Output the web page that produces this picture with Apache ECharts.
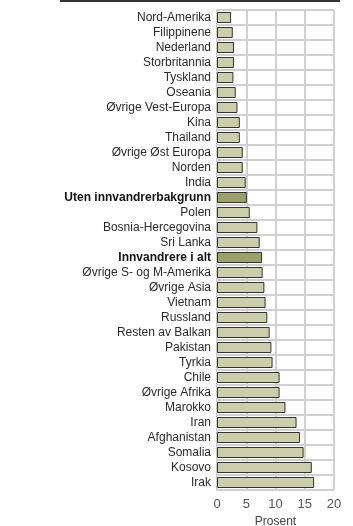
<!DOCTYPE html>
<html>
<head>
<meta charset="utf-8">
<script src="https://cdn.jsdelivr.net/npm/echarts@6/dist/echarts.min.js"></script>
<style>
  html, body { margin: 0; padding: 0; background: #fff; }
  #chart { width: 353px; height: 526px; }
</style>
</head>
<body>
<div id="chart"></div>
<script>
// categories, top to bottom
const categories = [
  "Nord-Amerika", "Filippinene", "Nederland", "Storbritannia", "Tyskland",
  "Oseania", "Øvrige Vest-Europa", "Kina", "Thailand", "Øvrige Øst Europa",
  "Norden", "India", "Uten innvandrerbakgrunn", "Polen", "Bosnia-Hercegovina",
  "Sri Lanka", "Innvandrere i alt", "Øvrige S- og M-Amerika", "Øvrige Asia",
  "Vietnam", "Russland", "Resten av Balkan", "Pakistan", "Tyrkia", "Chile",
  "Øvrige Afrika", "Marokko", "Iran", "Afghanistan", "Somalia", "Kosovo", "Irak"
];
const values = [
  2.4, 2.7, 2.9, 2.9, 2.8,
  3.2, 3.5, 3.9, 3.9, 4.4,
  4.4, 4.9, 5.1, 5.6, 6.9,
  7.3, 7.7, 7.8, 8.1,
  8.3, 8.6, 9.0, 9.3, 9.5, 10.7,
  10.7, 11.7, 13.6, 14.2, 14.8, 16.2, 16.6
];
const highlighted = ["Uten innvandrerbakgrunn", "Innvandrere i alt"];
const xTicks = [0, 5, 10, 15, 20];

const chart = echarts.init(document.getElementById("chart"));
const option = {
  animation: false,
  graphic: [
    {
      type: "line",
      shape: { x1: 60, y1: 1, x2: 340, y2: 1 },
      style: { stroke: "#333", lineWidth: 2 },
    },
  ],
  grid: { left: 217, right: 19, top: 10, bottom: 36, outerBoundsMode: "none" },
  xAxis: {
    type: "value",
    min: xTicks[0],
    max: xTicks[xTicks.length - 1],
    interval: 5,
    name: "Prosent",
    nameLocation: "middle",
    nameGap: 22,
    nameTextStyle: { fontFamily: "Liberation Sans", fontSize: 12, color: "#444" },
    axisLine: { show: false },
    axisTick: { show: false },
    axisLabel: { fontFamily: "Liberation Sans", fontSize: 13, color: "#555", margin: 8 },
    splitLine: { show: true, lineStyle: { color: "#d0d0d0", width: 2 } },
  },
  yAxis: {
    type: "category",
    data: categories,
    inverse: true,
    axisLine: { show: true, lineStyle: { color: "#d0d0d0", width: 2 } },
    axisTick: { show: false },
    axisLabel: {
      interval: 0,
      margin: 6,
      fontFamily: "Liberation Sans",
      fontSize: 12,
      color: "#2a2a2a",
      formatter: function (v) {
        return highlighted.indexOf(v) >= 0 ? "{b|" + v + "}" : v;
      },
      rich: { b: { fontWeight: "bold", fontFamily: "Liberation Sans", fontSize: 12, color: "#111" } },
    },
    splitLine: { show: true, interval: 0, lineStyle: { color: "#d0d0d0", width: 2 } },
  },
  series: [
    {
      type: "bar",
      barWidth: 11,
      data: values.map(function (v, i) {
        const hl = highlighted.indexOf(categories[i]) >= 0;
        return {
          value: v,
          itemStyle: { color: hl ? "#9ca06e" : "#cbcdab", borderColor: "#333", borderWidth: 1 },
        };
      }),
    },
  ],
};
chart.setOption(option);
</script>
</body>
</html>
